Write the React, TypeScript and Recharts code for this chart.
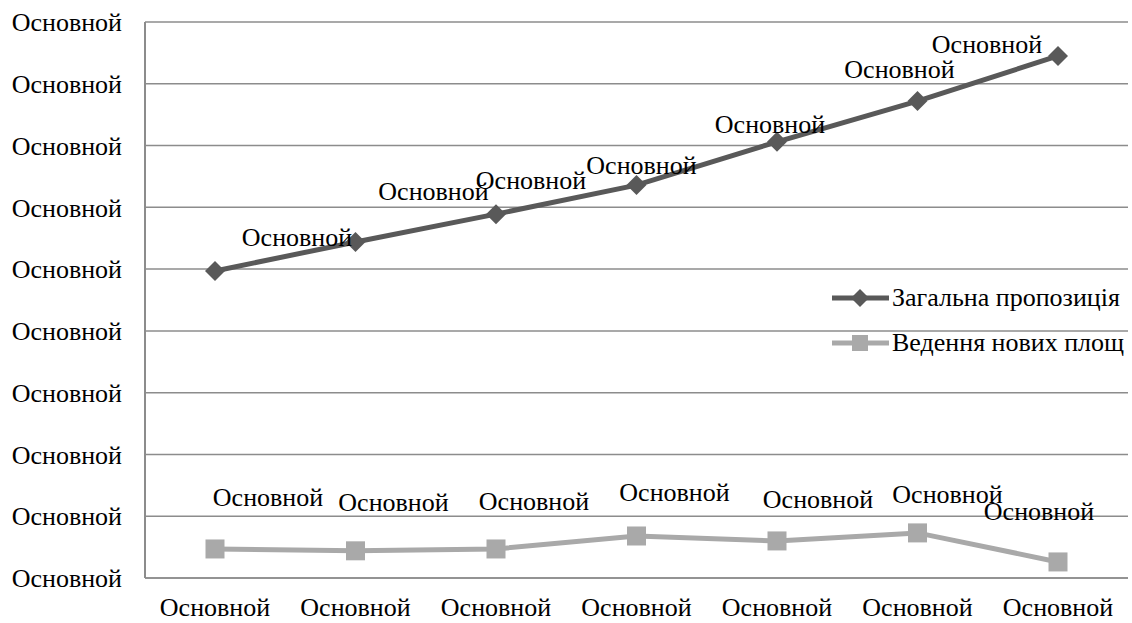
import { CartesianGrid, Legend, LabelList, Line, LineChart, XAxis, YAxis } from "recharts"

// placeholder labels, as in the source image
const categories = ["Основной", "Основной", "Основной", "Основной", "Основной", "Основной", "Основной"]
const yTickValues = [0, 1, 2, 3, 4, 5, 6, 7, 8, 9]
const yTickLabels = ["Основной", "Основной", "Основной", "Основной", "Основной", "Основной", "Основной", "Основной", "Основной", "Основной"]
const totalSupply = [4.97, 5.44, 5.89, 6.36, 7.06, 7.72, 8.45]
const newAreas = [0.47, 0.44, 0.47, 0.68, 0.6, 0.73, 0.26]
const totalLabels = ["Основной", "Основной", "Основной", "Основной", "Основной", "Основной", "Основной"]
const newAreasLabels = ["Основной", "Основной", "Основной", "Основной", "Основной", "Основной", "Основной"]

const seriesNames = ["Загальна пропозиція", "Ведення нових площ"]

// label offsets relative to each point (Excel put them by hand)
const totalOffsets = [[82, -33], [78, -50], [35, -34], [5, -20], [-7, -17], [-18, -32], [-71, -11]]
const newAreasOffsets = [[53, -51], [38, -48], [38, -47], [38, -43], [41, -41], [30, -38], [-19, -50]]

const data = categories.map((c, i) => ({
  name: c,
  total: totalSupply[i],
  newAreas: newAreas[i],
  totalLabel: totalLabels[i],
  newAreasLabel: newAreasLabels[i],
}))

const FONT = "'Liberation Serif', 'Times New Roman', serif"
const FS = 26
const DARK = "#595959"
const LIGHT = "#a9a9a9"
const GRID = "#8c8c8c"

const Diamond = (props: any) => {
  const { cx, cy } = props
  if (cx == null || cy == null) return null
  const r = 10
  return <path d={`M${cx},${cy - r} L${cx + r},${cy} L${cx},${cy + r} L${cx - r},${cy} Z`} fill={DARK} />
}

const Square = (props: any) => {
  const { cx, cy } = props
  if (cx == null || cy == null) return null
  const s = 19
  return <rect x={cx - s / 2} y={cy - s / 2} width={s} height={s} fill={LIGHT} />
}

const makeLabel = (offsets: number[][]) => (props: any) => {
  const { x, y, index, value } = props
  const [dx, dy] = offsets[index] || [0, -20]
  return (
    <text x={x + dx} y={y + dy} textAnchor="middle" dominantBaseline="central" fontFamily={FONT} fontSize={FS} fill="#000">
      {value}
    </text>
  )
}

const renderLegend = () => (
  <div style={{ fontFamily: FONT, fontSize: FS, color: "#000", whiteSpace: "nowrap" }}>
    <div style={{ display: "flex", alignItems: "center", height: 45 }}>
      <svg width={60} height={24} style={{ flex: "none" }}>
        <line x1={0} y1={12} x2={57} y2={12} stroke={DARK} strokeWidth={5} />
        <path d="M28,3 L37,12 L28,21 L19,12 Z" fill={DARK} />
      </svg>
      <span>{seriesNames[0]}</span>
    </div>
    <div style={{ display: "flex", alignItems: "center", height: 45 }}>
      <svg width={60} height={24} style={{ flex: "none" }}>
        <line x1={0} y1={12} x2={57} y2={12} stroke={LIGHT} strokeWidth={5} />
        <rect x={20} y={4} width={16} height={16} fill={LIGHT} />
      </svg>
      <span>{seriesNames[1]}</span>
    </div>
  </div>
)

export default function App() {
  return (
    <div style={{ position: "absolute", left: 0, top: 0, width: 1132, height: 623, overflow: "hidden", background: "#fff" }}>
      <LineChart width={1132} height={623} data={data} margin={{ top: 22, right: 4, bottom: 0, left: 0 }}>
        <CartesianGrid vertical={false} stroke={GRID} strokeWidth={1.5} />
        <XAxis
          dataKey="name"
          axisLine={{ stroke: GRID, strokeWidth: 1.5 }}
          tickLine={false}
          tickMargin={14}
          height={45}
          interval={0}
          padding={{ left: 70, right: 70 }}
          tick={{ fill: "#000", fontFamily: FONT, fontSize: FS }}
        />
        <YAxis
          domain={[0, 9]}
          ticks={yTickValues}
          tickFormatter={(v: number) => yTickLabels[v] ?? ""}
          axisLine={{ stroke: GRID, strokeWidth: 2 }}
          tickLine={false}
          tickSize={0}
          tickMargin={23}
          width={145}
          interval={0}
          tick={{ fill: "#000", fontFamily: FONT, fontSize: FS }}
        />
        <Legend
          layout="horizontal"
          verticalAlign="middle"
          align="center"
          content={renderLegend}
          wrapperStyle={{ left: 832, top: 275, width: 320 }}
        />
        <Line
          dataKey="total"
          name={seriesNames[0]}
          stroke={DARK}
          strokeWidth={5}
          dot={<Diamond />}
          activeDot={false}
          isAnimationActive={false}
        >
          <LabelList dataKey="totalLabel" content={makeLabel(totalOffsets)} />
        </Line>
        <Line
          dataKey="newAreas"
          name={seriesNames[1]}
          stroke={LIGHT}
          strokeWidth={5}
          dot={<Square />}
          activeDot={false}
          isAnimationActive={false}
        >
          <LabelList dataKey="newAreasLabel" content={makeLabel(newAreasOffsets)} />
        </Line>
      </LineChart>
    </div>
  )
}
